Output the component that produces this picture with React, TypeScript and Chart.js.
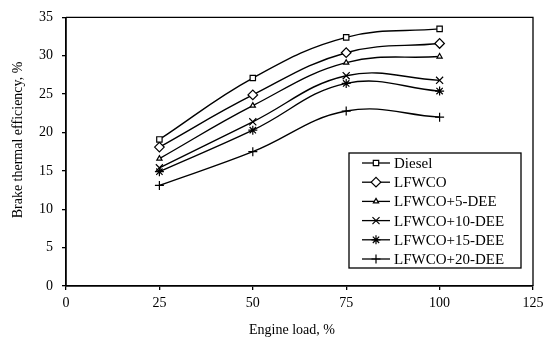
import React, { useEffect, useRef } from "react";
import { Chart, registerables } from "chart.js";
import * as helpers from "chart.js/helpers";

Chart.register(...registerables);

const engineLoad = [25, 50, 75, 100];
const diesel = [19.1, 27.1, 32.4, 33.5];
const lfwco = [18.1, 24.9, 30.4, 31.6];
const lfwco5 = [16.6, 23.5, 29.1, 29.9];
const lfwco10 = [15.4, 21.4, 27.4, 26.8];
const lfwco15 = [14.9, 20.3, 26.4, 25.4];
const lfwco20 = [13.1, 17.5, 22.8, 22.0];

const seriesNames = ["Diesel", "LFWCO", "LFWCO+5-DEE", "LFWCO+10-DEE", "LFWCO+15-DEE", "LFWCO+20-DEE"];
const seriesValues = [diesel, lfwco, lfwco5, lfwco10, lfwco15, lfwco20];
const pointStyles = ["rect", "rectRot", "triangle", "crossRot", "star", "cross"];
const pointRadii = [3.8, 4.8, 3, 5, 4.5, 4.5];

const xTitle = "Engine load, %";
const yTitle = "Brake thermal efficiency, %";
const FONT = "'Liberation Serif', 'Times New Roman', serif";

const framePlugin = {
  id: "frame",
  afterDatasetsDraw(chart: any) {
    const { ctx, chartArea } = chart;
    ctx.save();
    ctx.strokeStyle = "#000";
    ctx.lineWidth = 1.3;
    ctx.beginPath();
    ctx.moveTo(chartArea.left, chartArea.top);
    ctx.lineTo(chartArea.right, chartArea.top);
    ctx.lineTo(chartArea.right, chartArea.bottom);
    ctx.stroke();

    // axis titles
    ctx.fillStyle = "#000";
    ctx.font = `14px ${FONT}`;
    ctx.textAlign = "center";
    ctx.textBaseline = "middle";
    ctx.fillText(xTitle, 292, 330);
    ctx.save();
    ctx.translate(18, 140);
    ctx.rotate(-Math.PI / 2);
    ctx.fillText(yTitle, 0, 0);
    ctx.restore();

    // legend
    const lx = 349, ly = 153, lw = 172, lh = 115;
    ctx.fillStyle = "#fff";
    ctx.fillRect(lx, ly, lw, lh);
    ctx.strokeStyle = "#000";
    ctx.lineWidth = 1.3;
    ctx.strokeRect(lx, ly, lw, lh);
    ctx.font = `15px ${FONT}`;
    ctx.textAlign = "left";
    seriesNames.forEach((name, i) => {
      const y = 163 + i * 19.2;
      ctx.strokeStyle = "#000";
      ctx.lineWidth = 1.3;
      ctx.beginPath();
      ctx.moveTo(362, y);
      ctx.lineTo(390, y);
      ctx.stroke();
      ctx.fillStyle = "#fff";
      ctx.lineWidth = 1.2;
      helpers.drawPoint(ctx, { pointStyle: pointStyles[i], radius: pointRadii[i], borderWidth: 1.2, rotation: 0 }, 376, y);
      ctx.fillStyle = "#000";
      ctx.fillText(name, 394, y + 1);
    });
    ctx.restore();
  },
};

export default function App() {
  const ref = useRef<HTMLCanvasElement>(null);
  useEffect(() => {
    if (!ref.current) return;
    const datasets = seriesNames.map((name, i) => ({
      label: name,
      data: engineLoad.map((x, j) => ({ x, y: seriesValues[i][j] })),
      borderColor: "#000",
      backgroundColor: "#fff",
      borderWidth: 1.4,
      pointStyle: pointStyles[i],
      pointRadius: pointRadii[i],
      pointBorderWidth: 1.2,
      pointBorderColor: "#000",
      pointBackgroundColor: "#fff",
      tension: 0.4,
      fill: false,
    }));
    const chart = new Chart(ref.current, {
      type: "line",
      data: { datasets },
      options: {
        animation: false,
        responsive: false,
        layout: { padding: { top: 12, right: 17, left: 0, bottom: 0 } },
        plugins: { legend: { display: false }, tooltip: { enabled: false } },
        scales: {
          x: {
            type: "linear",
            min: 0,
            max: 125,
            ticks: { stepSize: 25, color: "#000", font: { family: FONT, size: 14 }, padding: 5, maxRotation: 0 },
            grid: { drawOnChartArea: false, drawTicks: true, tickLength: 4, color: "#000", lineWidth: 1.3 },
            border: { color: "#000", width: 1.8 },
            afterFit: (s: any) => { s.height = 58; },
          },
          y: {
            min: 0,
            max: 35,
            ticks: { stepSize: 5, color: "#000", font: { family: FONT, size: 14 }, padding: 9 },
            grid: { drawOnChartArea: false, drawTicks: true, tickLength: 4, color: "#000", lineWidth: 1.3 },
            border: { color: "#000", width: 1.8 },
            afterFit: (s: any) => { s.width = 66; },
          },
        },
      },
      plugins: [framePlugin],
    });
    return () => chart.destroy();
  }, []);
  return (
    <div style={{ position: "absolute", left: 0, top: 0, width: 550, height: 344, background: "#fff" }}>
      <canvas ref={ref} width={550} height={344} />
    </div>
  );
}
